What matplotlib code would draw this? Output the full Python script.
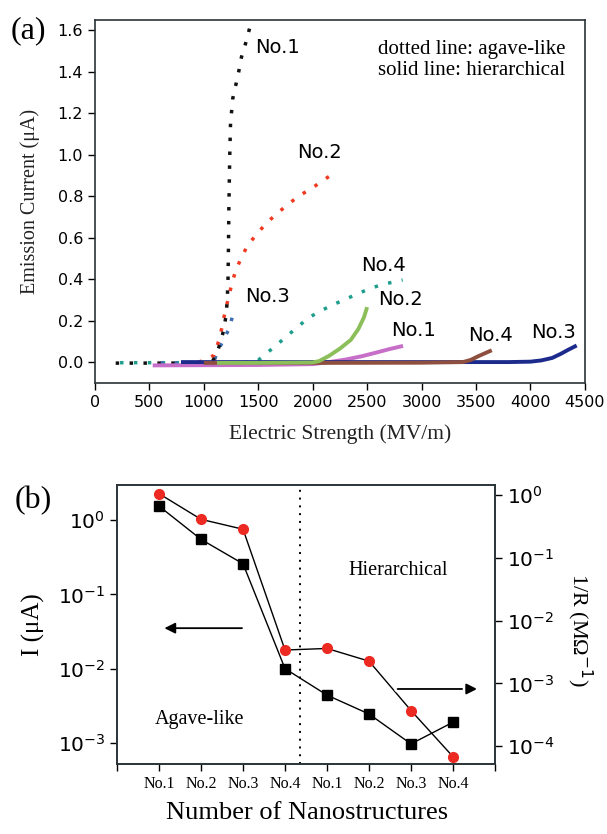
import numpy as np
import matplotlib.pyplot as plt
import matplotlib.patheffects as pe

plt.rcParams['font.family'] = ['DejaVu Sans']
plt.rcParams['mathtext.fontset'] = 'dejavusans'
SERIF = 'Liberation Serif'

# ---- panel (a): emission current vs field ----
# agave-like (dotted)
ag1_x = [190, 500, 800, 1000, 1080, 1110, 1150, 1185, 1205, 1215, 1222, 1226, 1230, 1238, 1245, 1265, 1295, 1320, 1345, 1385, 1420]
ag1_y = [-0.005, -0.005, -0.005, -0.004, 0.005, 0.03, 0.09, 0.16, 0.23, 0.30, 0.40, 0.55, 0.75, 1.0, 1.15, 1.27, 1.34, 1.40, 1.47, 1.54, 1.61]
ag2_x = [950, 1000, 1090, 1136, 1167, 1192, 1223, 1253, 1290, 1343, 1404, 1490, 1573, 1674, 1775, 1885, 1997, 2104, 2210]
ag2_y = [0.0, 0.008, 0.032, 0.10, 0.168, 0.235, 0.303, 0.369, 0.438, 0.502, 0.565, 0.619, 0.67, 0.717, 0.762, 0.805, 0.84, 0.88, 0.915]
ag3_x = [600, 900, 1050, 1100, 1115, 1177, 1238, 1268]
ag3_y = [-0.004, -0.004, -0.002, 0.012, 0.038, 0.104, 0.167, 0.234]
ag4_x = [230, 800, 1300, 1480, 1551, 1659, 1757, 1859, 1957, 2073, 2196, 2313, 2436, 2559, 2688, 2826]
ag4_y = [-0.003, -0.003, -0.003, 0.0, 0.032, 0.078, 0.123, 0.168, 0.212, 0.247, 0.279, 0.306, 0.335, 0.361, 0.38, 0.396]

# hierarchical (solid)
hi1_x = [530, 1500, 2000, 2150, 2300, 2450, 2600, 2700, 2830]
hi1_y = [-0.016, -0.014, -0.01, 0.0, 0.012, 0.028, 0.048, 0.062, 0.078]
hi2_x = [1120, 1500, 2000, 2060, 2150, 2250, 2350, 2420, 2470, 2500]
hi2_y = [-0.004, -0.004, -0.002, 0.005, 0.03, 0.065, 0.107, 0.16, 0.215, 0.265]
hi3_x = [790, 2000, 3000, 3800, 4000, 4100, 4200, 4280, 4350, 4425]
hi3_y = [0.0, 0.0, 0.0, 0.0, 0.002, 0.008, 0.02, 0.04, 0.06, 0.08]
hi4_x = [1000, 2000, 3000, 3380, 3450, 3520, 3580, 3645]
hi4_y = [-0.004, -0.004, -0.003, 0.0, 0.01, 0.028, 0.042, 0.057]

# ---- panel (b): current and conductance per sample ----
samples = ['No.1', 'No.2', 'No.3', 'No.4', 'No.1', 'No.2', 'No.3', 'No.4']
I_uA = [1.54, 0.55, 0.258, 0.010, 4.4e-3, 2.45e-3, 9.7e-4, 1.9e-3]
inv_R = [1.05, 0.41, 0.285, 3.4e-3, 3.6e-3, 2.26e-3, 3.7e-4, 6.8e-5]

fig = plt.figure(figsize=(6.07, 8.34), dpi=100)

# ===== (a) =====
ax = fig.add_axes([0.1565, 0.541, 0.807, 0.435])
dots = (0, (1, 3))
ax.plot(ag4_x, ag4_y, color='#1f9e8e', lw=2.5, ls=dots)
ax.plot(ag3_x, ag3_y, color='#3d6cb0', lw=2.5, ls=dots)
ax.plot(ag2_x, ag2_y, color='#f03a22', lw=2.5, ls=dots)
ax.plot(ag1_x, ag1_y, color='#111111', lw=2.5, ls=dots)
ax.plot(hi1_x, hi1_y, color='#c66ec8', lw=2.8, solid_capstyle='butt')
ax.plot(hi3_x, hi3_y, color='#1c2a8c', lw=2.8, solid_capstyle='butt')
ax.plot(hi4_x, hi4_y, color='#8e4f3e', lw=2.8, solid_capstyle='butt')
ax.plot(hi2_x, hi2_y, color='#8cbf5a', lw=2.8, solid_capstyle='butt')

ax.set_xlim(0, 4500)
ax.set_ylim(-0.1, 1.65)
ax.set_xticks(np.arange(0, 4501, 500))
ax.set_yticks(np.arange(0, 1.61, 0.2))
ax.yaxis.set_major_formatter(plt.FormatStrFormatter('%.1f'))
ax.tick_params(direction='out', length=5, width=1, labelsize=11.5, top=False, right=False)
for s in ax.spines.values():
    s.set_linewidth(1.2)
    s.set_color('#2a3438')

lab_kw = dict(fontsize=14, ha='center', va='center')
ax.text(1681, 1.517, 'No.1', **lab_kw)
ax.text(2066, 1.012, 'No.2', **lab_kw)
ax.text(1589, 0.314, 'No.3', **lab_kw)
ax.text(2654, 0.468, 'No.4', **lab_kw)
ax.text(2810, 0.300, 'No.2', **lab_kw)
ax.text(2930, 0.151, 'No.1', **lab_kw)
ax.text(3637, 0.127, 'No.4', **lab_kw)
ax.text(4215, 0.141, 'No.3', **lab_kw)
ax.text(0.578, 0.92, 'dotted line: agave-like', transform=ax.transAxes,
        family=SERIF, fontsize=15, ha='left', va='center')
ax.text(0.578, 0.86, 'solid line: hierarchical', transform=ax.transAxes,
        family=SERIF, fontsize=15, ha='left', va='center')

ax.set_xlabel('Electric Strength (MV/m)', family=SERIF, fontsize=15.5, color='#222222')
ax.xaxis.set_label_coords(0.5, -0.113)
ax.set_ylabel('Emission Current (μA)', family=SERIF, fontsize=14.5, color='#222222')
ax.yaxis.set_label_coords(-0.112, 0.5)

fig.text(0.047, 0.963, '(a)', family=SERIF, fontsize=23, ha='center', va='center')

# ===== (b) =====
bx = fig.add_axes([0.1928, 0.0839, 0.6227, 0.3345])
pos = np.arange(1, len(samples) + 1)
bx.plot(pos, I_uA, color='black', lw=1, marker='s', ms=6.5, mfc='black', mec='black')
bx.set_yscale('log')
bx.set_ylim(5.2e-4, 2.96)
bx.set_xlim(0, 9)
bx.set_xticks(np.arange(0, 10))
bx.set_xticklabels([''] + samples + [''], family=SERIF, fontsize=11.5)
bx.axvline(4.35, color='black', lw=1.4, ls=(0, (1, 3)))
bx.minorticks_off()
bx.tick_params(direction='out', length=5, width=1, top=False, right=False)
bx.tick_params(axis='y', labelsize=14.5)

rx = bx.twinx()
rx.plot(pos, inv_R, color='black', lw=1, marker='o', ms=7, mfc='#ec2a22', mec='#ec2a22')
rx.set_yscale('log')
rx.set_ylim(5.2e-5, 1.44)
rx.minorticks_off()
rx.tick_params(direction='out', length=5, width=1, labelsize=14.5)

for a in (bx, rx):
    for s in a.spines.values():
        s.set_linewidth(1.2)
        s.set_color('#2a3438')

arr = dict(arrowstyle='-|>', color='black', lw=1.3, mutation_scale=16)
a1 = bx.annotate('', xy=(0.118, 0.487), xytext=(0.338, 0.487), xycoords='axes fraction',
                 textcoords='axes fraction', arrowprops=arr)
a2 = rx.annotate('', xy=(0.96, 0.269), xytext=(0.735, 0.269), xycoords='axes fraction',
                 textcoords='axes fraction', arrowprops=arr)
a2.arrow_patch.set_path_effects([pe.withStroke(linewidth=5, foreground='white')])

rx.text(0.743, 0.695, 'Hierarchical', transform=rx.transAxes, family=SERIF,
        fontsize=14.5, ha='center', va='center')
rx.text(0.219, 0.158, 'Agave-like', transform=rx.transAxes, family=SERIF,
        fontsize=14.5, ha='center', va='center')

bx.set_xlabel('Number of Nanostructures', family=SERIF, fontsize=19)
bx.xaxis.set_label_coords(0.503, -0.135)
bx.set_ylabel('I (μA)', family=SERIF, fontsize=18)
bx.yaxis.set_label_coords(-0.19, 0.5)
rx.set_ylabel('1/R (MΩ$^{-1}$)', family=SERIF, fontsize=16, rotation=270, va='center')
rx.yaxis.set_label_coords(1.225, 0.48)

fig.text(0.054, 0.40, '(b)', family=SERIF, fontsize=23, ha='center', va='center')

fig.savefig('out.png', dpi=100)
